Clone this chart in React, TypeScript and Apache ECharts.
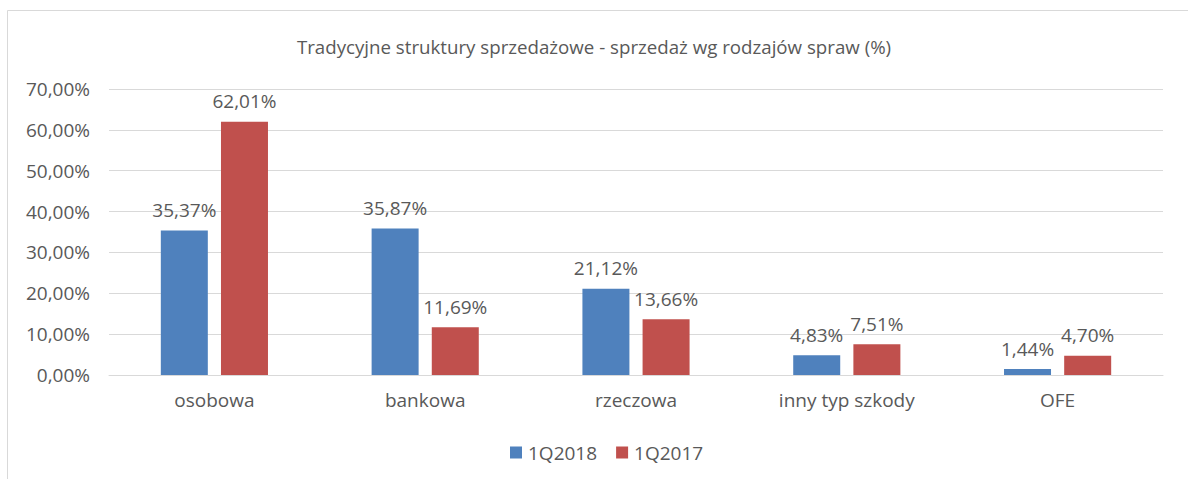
import React, { useEffect, useRef } from "react";
import * as echarts from "echarts";

const categories = ["osobowa", "bankowa", "rzeczowa", "inny typ szkody", "OFE"];
const series2018 = [35.37, 35.87, 21.12, 4.83, 1.44];
const series2017 = [62.01, 11.69, 13.66, 7.51, 4.7];
const seriesNames = ["1Q2018", "1Q2017"];
const titleText = "Tradycyjne struktury sprzedażowe - sprzedaż wg rodzajów spraw (%)";

const fmt = (v: number) => v.toFixed(2).replace(".", ",") + "%";
const FONT = "'Open Sans', 'Noto Sans', sans-serif";
const TXT = "#595959";
const FS = 19;

export default function App() {
  const ref = useRef<HTMLDivElement>(null);
  useEffect(() => {
    document.body.style.margin = "0";
    const chart = echarts.init(ref.current!, null, { renderer: "svg" });
    chart.setOption({
      animation: false,
      backgroundColor: "#ffffff",
      textStyle: { fontFamily: FONT },
      title: {
        text: titleText,
        left: "center",
        top: 32,
        textStyle: { fontFamily: FONT, fontSize: 18.7, fontWeight: "normal", color: TXT },
      },
      legend: {
        data: seriesNames,
        bottom: 12,
        left: 505,
        itemWidth: 12,
        itemHeight: 12,
        itemGap: 19,
        icon: "rect",
        textStyle: { fontFamily: FONT, fontSize: FS, color: TXT, padding: [0, 0, 0, 1] },
      },
      grid: { left: 109, right: 25, top: 89, bottom: 104, containLabel: false },
      xAxis: {
        type: "category",
        data: categories,
        axisLine: { lineStyle: { color: "#d9d9d9" } },
        axisTick: { show: false },
        axisLabel: { fontFamily: FONT, fontSize: FS, color: TXT, margin: 15 },
      },
      yAxis: {
        type: "value",
        min: 0,
        max: 70,
        interval: 10,
        axisLine: { show: false },
        axisTick: { show: false },
        splitLine: { lineStyle: { color: "#d9d9d9" } },
        axisLabel: { fontFamily: FONT, fontSize: FS, color: TXT, margin: 19, formatter: (v: number) => fmt(v) },
      },
      series: [
        {
          name: seriesNames[0],
          type: "bar",
          data: series2018,
          barWidth: 47,
          barGap: "28%",
          itemStyle: { color: "#4f81bd" },
          label: { show: true, position: "top", distance: 11, fontFamily: FONT, fontSize: FS, color: TXT, formatter: (p: any) => fmt(p.value) },
        },
        {
          name: seriesNames[1],
          type: "bar",
          data: series2017,
          barWidth: 47,
          itemStyle: { color: "#c0504d" },
          label: { show: true, position: "top", distance: 11, fontFamily: FONT, fontSize: FS, color: TXT, formatter: (p: any) => fmt(p.value) },
        },
      ],
      graphic: [
        { type: "line", shape: { x1: 7.5, y1: 10.5, x2: 1188, y2: 10.5 }, style: { stroke: "#d9d9d9", lineWidth: 1 } },
        { type: "line", shape: { x1: 7.5, y1: 10.5, x2: 7.5, y2: 479 }, style: { stroke: "#d9d9d9", lineWidth: 1 } },
      ],
    });
    return () => chart.dispose();
  }, []);
  return <div ref={ref} style={{ width: 1188, height: 479 }} />;
}
